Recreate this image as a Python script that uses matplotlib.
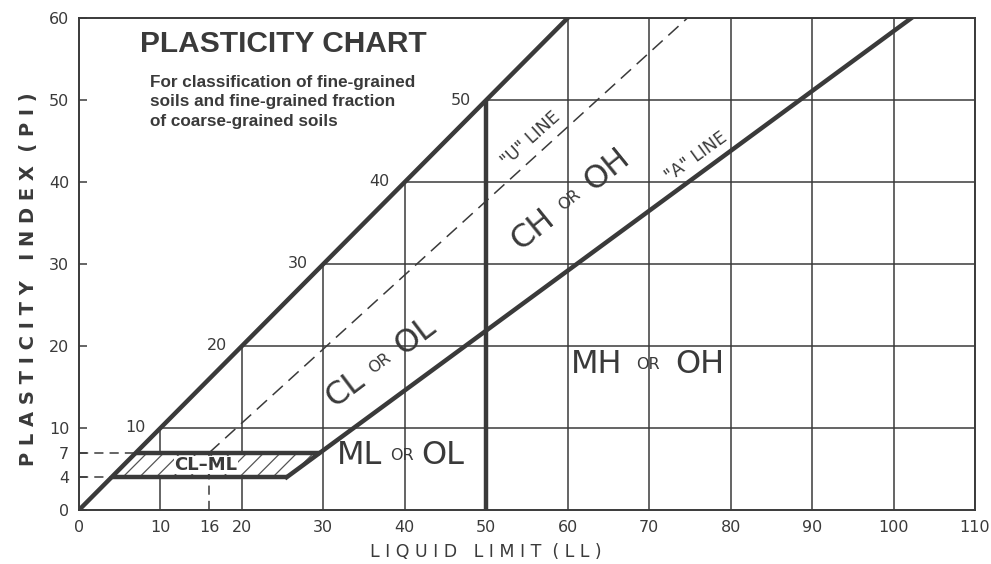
import matplotlib
matplotlib.use("Agg")
import math
import matplotlib.pyplot as plt
from matplotlib.patches import Polygon

# axis ticks
x_ticks = [0, 10, 16, 20, 30, 40, 50, 60, 70, 80, 90, 100, 110]
y_ticks = [0, 4, 7, 10, 20, 30, 40, 50, 60]
grid_x = [10, 20, 30, 40, 50, 60, 70, 80, 90, 100, 110]
grid_y = [10, 20, 30, 40, 50, 60]

# boundary line PI = LL and its labels
edge_ll = [0, 60]
edge_pi = [0, 60]
edge_labels = [10, 20, 30, 40, 50]

# "A" line and "U" line end points
a_ll = [25.5, 102.2]
a_pi = [4, 60]
u_ll = [16, 74.7]
u_pi = [7, 60]

# LL = 50 divider
div_ll = [50, 50]
div_pi = [0, 50]

# CL-ML zone
zone_ll = [4, 25.5, 29.6, 7]
zone_pi = [4, 4, 7, 7]

ink = "#3a3a3a"

fig = plt.figure(figsize=(9.91, 5.64), dpi=100)
ax = fig.add_axes([79 / 991, 54 / 564, 896 / 991, 492 / 564])
ax.set_xlim(0, 110)
ax.set_ylim(0, 60)

# grid only below the PI = LL line
for gx in grid_x:
    ax.plot([gx, gx], [0, min(gx, 60)], color=ink, lw=1.1, zorder=1)
for gy in grid_y:
    ax.plot([gy, 110], [gy, gy], color=ink, lw=1.1, zorder=1)

# dashed guides for 4, 7 and 16
ax.plot([0, zone_ll[3]], [zone_pi[3], zone_pi[3]], color=ink, lw=1.1, ls=(0, (6, 4)), zorder=1)
ax.plot([0, zone_ll[0]], [zone_pi[0], zone_pi[0]], color=ink, lw=1.1, ls=(0, (6, 4)), zorder=1)
ax.plot([u_ll[0], u_ll[0]], [0, u_pi[0]], color=ink, lw=1.1, ls=(0, (6, 4)), zorder=3)

# hatched zone
plt.rcParams["hatch.linewidth"] = 0.9
zone = Polygon(list(zip(zone_ll, zone_pi)), closed=True, facecolor="white",
               edgecolor="#555555", hatch="//", lw=0, zorder=2)
ax.add_patch(zone)
ax.plot(zone_ll[:2], zone_pi[:2], color=ink, lw=3.2, zorder=4, solid_capstyle="butt")
ax.plot(zone_ll[2:], zone_pi[2:], color=ink, lw=3.2, zorder=4, solid_capstyle="butt")

# main lines
ax.plot(edge_ll, edge_pi, color=ink, lw=3.2, zorder=4)
ax.plot(a_ll, a_pi, color=ink, lw=3.2, zorder=4)
ax.plot(div_ll, div_pi, color=ink, lw=3.2, zorder=4, solid_capstyle="butt")
ax.plot(u_ll, u_pi, color=ink, lw=1.1, ls=(0, (9, 5)), zorder=3)

for v in edge_labels:
    ax.annotate(str(v), (v, v), xytext=(-18, 0), textcoords="offset points",
                ha="center", va="center", fontsize=11.5, color=ink)

# zone labels
ax.text(15.6, 5.5, "CL–ML", ha="center", va="center", fontsize=13, fontweight="bold",
        color=ink, zorder=5, bbox=dict(facecolor="white", edgecolor="none", pad=0.3))


def place(x, y, a, b, rot, gap, big=23, small=11.5):
    # words on both sides of a small "OR" along a rotated baseline
    c = math.cos(math.radians(rot))
    s = math.sin(math.radians(rot))
    ax.annotate("OR", (x, y), ha="center", va="center", fontsize=small, color=ink,
                rotation=rot, rotation_mode="anchor", zorder=5)
    ax.annotate(a, (x, y), xytext=(-gap * c, -gap * s), textcoords="offset points",
                ha="right", va="center", fontsize=big, color=ink,
                rotation=rot, rotation_mode="anchor", zorder=5)
    ax.annotate(b, (x, y), xytext=(gap * c, gap * s), textcoords="offset points",
                ha="left", va="center", fontsize=big, color=ink,
                rotation=rot, rotation_mode="anchor", zorder=5)


place(39.6, 6.6, "ML", "OL", 0, 14)
place(69.9, 17.7, "MH", "OH", 0, 19)
place(36.9, 17.9, "CL", "OL", 37, 17)
place(60.2, 37.8, "CH", "OH", 39, 17)

ax.text(55.5, 45.3, '"U" LINE', ha="center", va="center", fontsize=12.5, color=ink,
        rotation=42, rotation_mode="anchor", zorder=5)
ax.text(75.8, 43.1, '"A" LINE', ha="center", va="center", fontsize=12.5, color=ink,
        rotation=36, rotation_mode="anchor", zorder=5)

# title block
ax.text(7.5, 56.8, "PLASTICITY CHART", family="Liberation Sans", fontweight="bold",
        fontsize=21.5, color=ink, va="center", ha="left")
ax.text(8.7, 49.8, "For classification of fine-grained\nsoils and fine-grained fraction\nof coarse-grained soils",
        family="Liberation Sans", fontweight="bold", fontsize=12.3, color=ink,
        va="center", ha="left", linespacing=1.38)

# axes
for sp in ax.spines.values():
    sp.set_color(ink)
    sp.set_linewidth(1.4)
ax.set_xticks(x_ticks)
ax.set_xticklabels([str(v) for v in x_ticks], fontsize=11.5, color=ink)
ax.set_yticks(y_ticks)
ax.set_yticklabels([str(v) for v in y_ticks], fontsize=11.5, color=ink)
ax.tick_params(axis="x", length=0, pad=7)
ax.tick_params(axis="y", direction="in", length=6, width=1.1, color=ink, pad=7)

ax.set_xlabel("L I Q U I D   L I M I T  ( L L )", fontsize=12.5, color=ink, labelpad=6)
ax.xaxis.label.set_x(50 / 110)
ax.set_ylabel("P L A S T I C I T Y   I N D E X  ( P I )", fontsize=14, color=ink,
              fontweight="bold", labelpad=8)
ax.yaxis.label.set_y(0.47)

fig.savefig("out.png", dpi=100)
